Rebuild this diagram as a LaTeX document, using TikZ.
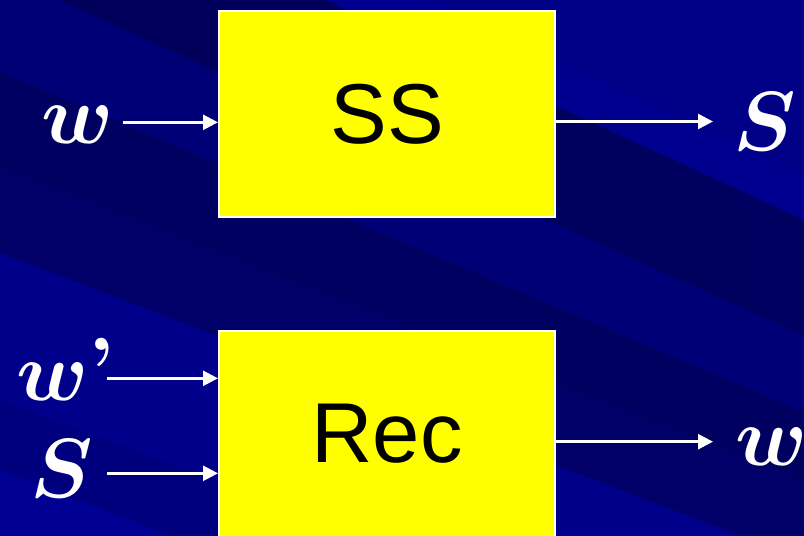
\RequirePackage{fix-cm}
\documentclass[tikz,border=0pt]{standalone}
\usepackage{fontspec}
\usepackage{amsmath,bm}
\newfontfamily\arialfont{Liberation Sans}
\usetikzlibrary{arrows.meta}

% background blues
\definecolor{bgbase}{HTML}{00007A}
\definecolor{bgtopright}{HTML}{000086}
\definecolor{bglight}{HTML}{00008E}
\definecolor{bgdarkest}{HTML}{00005A}
\definecolor{bgdark}{HTML}{000060}
\definecolor{bgmid}{HTML}{000076}
\definecolor{bgmiddark}{HTML}{000068}
\definecolor{bglow}{HTML}{00008A}
\definecolor{bglowdark}{HTML}{00007E}
\definecolor{bgbottom}{HTML}{000092}
\definecolor{boxyellow}{HTML}{FFFF00}

% one diagonal band of the backdrop: upper edge from (0,#1) to (804,#2),
% lower edge from (0,#3) to (804,#4)
\newcommand\bgband[5]{%
  \fill[#5] (0,#1) -- (804,#2) -- (804,#4) -- (0,#3) -- cycle;}

\tikzset{
  block/.style={draw=white, line width=2pt, fill=boxyellow,
    minimum width=336pt, minimum height=206pt, inner sep=0pt,
    font=\arialfont\fontsize{85}{90}\selectfont, text=black},
  sym/.style={inner sep=0pt, anchor=base west, text=white,
    font=\fontsize{84}{90}\selectfont},
  arr/.style={draw=white, line width=2.5pt,
    -{Triangle[length=15pt,width=15pt]}},
}

\begin{document}
\begin{tikzpicture}[x=1pt,y=-1pt]
\useasboundingbox (0,0) rectangle (804,536);

% backdrop
\begin{scope}
  \clip (0,0) rectangle (804,536);
  \fill[bgbase] (0,0) rectangle (804,536);
  \bgband{-400}{-100}{-200}{175}{bgtopright}
  \bgband{-200}{175}{-150}{220}{bglight}
  \shade[left color=bgdarkest, right color=bgdark]
    (0,-150) -- (804,220) -- (804,336) -- (0,-26) -- cycle;
  \bgband{-26}{336}{72}{412}{bgmid}
  \bgband{72}{412}{167}{480}{bgdark}
  \bgband{167}{480}{253}{560}{bgmiddark}
  \bgband{253}{560}{400}{700}{bglow}
  \bgband{400}{700}{470}{780}{bglowdark}
  \bgband{470}{780}{800}{1100}{bgbottom}
\end{scope}

% blocks
\node[block] (ss)  at (387,114)   {SS};
\node[block] (rec) at (387,433.5) {Rec};

% symbols
\node[sym] (win)    at (41,143.5) {$\bm{w}$};
\node[sym] (sout)   at (733,150)  {$\bm{S}$};
\node[sym] (wprime) at (16,400)   {$\bm{w}$\raisebox{4pt}{\textbf{’}}};
\node[sym] (sin)    at (30,497)   {$\bm{S}$};
\node[sym] (wout)   at (735,465)  {$\bm{w}$};

% arrow ends
\coordinate (p1) at (123,122.3);
\coordinate (p2) at (713,121.5);
\coordinate (p3) at (107,378.3);
\coordinate (p4) at (107,473.3);
\coordinate (p5) at (713,441.7);

% connectors
\draw[arr] (p1) -- (p1 -| ss.west);
\draw[arr] (p2 -| ss.east) -- (p2);
\draw[arr] (p3) -- (p3 -| rec.west);
\draw[arr] (p4) -- (p4 -| rec.west);
\draw[arr] (p5 -| rec.east) -- (p5);
\end{tikzpicture}
\end{document}
